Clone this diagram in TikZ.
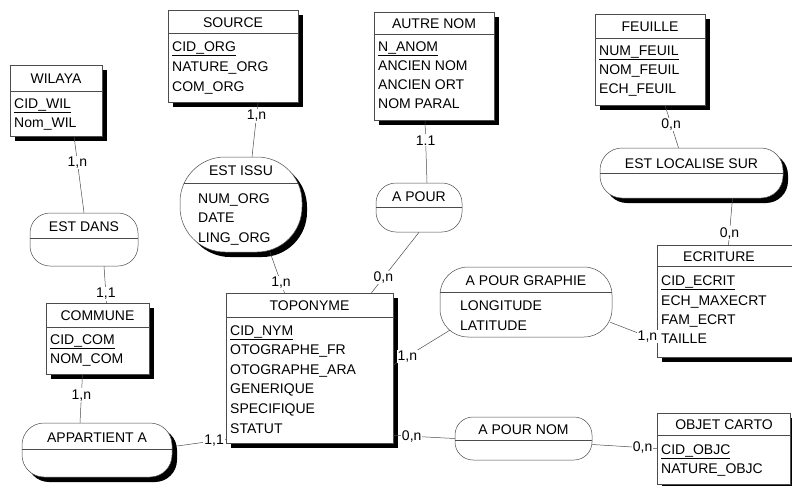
\documentclass[tikz,border=0pt]{standalone}
\usepackage{fontspec}
\setmainfont{Liberation Sans}
\usetikzlibrary{shadows}

\newcommand\erfont{\fontsize{14}{16}\selectfont}

\tikzset{
  titleline/.style={path picture={\draw[black!70, line width=0.5pt]
      ([yshift=-#1]path picture bounding box.north west) --
      ([yshift=-#1]path picture bounding box.north east);}},
  entity/.style={draw=black!70, line width=0.5pt, fill=white, inner sep=0pt, titleline=#1},
  relation/.style 2 args={draw=black!70, line width=0.5pt, fill=white, inner sep=0pt,
      rounded corners=#1, titleline=#2},
  boxshadow/.style={drop shadow={shadow xshift=5pt, shadow yshift=-5pt, opacity=1, fill=black}},
  ttl/.style={font=\erfont, anchor=base, inner sep=0pt},
  attr/.style={font=\erfont, anchor=base west, inner sep=0pt},
  card/.style={font=\erfont, fill=white, inner sep=1pt},
  link/.style={draw=black!70, line width=0.5pt},
}

\begin{document}
\begin{tikzpicture}[x=1pt, y=-1pt]
  \useasboundingbox (0,0) rectangle (792,485);
  \clip (0,0) rectangle (792,485);

  % entites
  \node[entity=26pt, boxshadow, minimum width=92pt, minimum height=71pt] (wilaya) at (56,100.5) {};
  \node[ttl] (wilaya-t) at (56,83) {WILAYA};
  \node[attr] (wilaya-1) at (14,108) {\underline{CID\_WIL}};
  \node[attr] (wilaya-2) at (14,127) {Nom\_WIL};

  \node[entity=23pt, boxshadow, minimum width=130pt, minimum height=92pt] (source) at (233,56) {};
  \node[ttl] (source-t) at (233,27) {SOURCE};
  \node[attr] (source-1) at (172,51) {\underline{CID\_ORG}};
  \node[attr] (source-2) at (172,71) {NATURE\_ORG};
  \node[attr] (source-3) at (172,91) {COM\_ORG};

  \node[entity=22pt, boxshadow, minimum width=120pt, minimum height=108pt] (autrenom) at (434,66) {};
  \node[ttl] (autrenom-t) at (434,28) {AUTRE NOM};
  \node[attr] (autrenom-1) at (378,51) {\underline{N\_ANOM}};
  \node[attr] (autrenom-2) at (378,70) {ANCIEN NOM};
  \node[attr] (autrenom-3) at (378,89) {ANCIEN ORT};
  \node[attr] (autrenom-4) at (378,108) {NOM PARAL};

  \node[entity=24pt, boxshadow, minimum width=110pt, minimum height=91pt] (feuille) at (650,59.5) {};
  \node[ttl] (feuille-t) at (650,31) {FEUILLE};
  \node[attr] (feuille-1) at (599,55) {\underline{NUM\_FEUIL}};
  \node[attr] (feuille-2) at (599,74) {NOM\_FEUIL};
  \node[attr] (feuille-3) at (599,93) {ECH\_FEUIL};

  \node[entity=24pt, boxshadow, minimum width=103pt, minimum height=71pt] (commune) at (97.5,338.5) {};
  \node[ttl] (commune-t) at (97.5,320) {COMMUNE};
  \node[attr] (commune-1) at (50,344) {\underline{CID\_COM}};
  \node[attr] (commune-2) at (50,363) {NOM\_COM};

  \node[entity=24pt, boxshadow, minimum width=167pt, minimum height=150pt] (toponyme) at (309.5,368) {};
  \node[ttl] (toponyme-t) at (309.5,310) {TOPONYME};
  \node[attr] (toponyme-1) at (230,335) {\underline{CID\_NYM}};
  \node[attr] (toponyme-2) at (230,354) {OTOGRAPHE\_FR};
  \node[attr] (toponyme-3) at (230,374) {OTOGRAPHE\_ARA};
  \node[attr] (toponyme-4) at (230,393) {GENERIQUE};
  \node[attr] (toponyme-5) at (230,413) {SPECIFIQUE};
  \node[attr] (toponyme-6) at (230,433) {STATUT};

  \node[entity=21pt, boxshadow, minimum width=143pt, minimum height=112pt] (ecriture) at (728.5,301) {};
  \node[ttl] (ecriture-t) at (719,261) {ECRITURE};
  \node[attr] (ecriture-1) at (661,285) {\underline{CID\_ECRIT}};
  \node[attr] (ecriture-2) at (661,305) {ECH\_MAXECRT};
  \node[attr] (ecriture-3) at (661,324) {FAM\_ECRT};
  \node[attr] (ecriture-4) at (661,343) {TAILLE};

  \node[entity=22pt, boxshadow, minimum width=133pt, minimum height=71pt] (objetcarto) at (723.5,448.5) {};
  \node[ttl] (objetcarto-t) at (724,429) {OBJET CARTO};
  \node[attr] (objetcarto-1) at (661,454) {\underline{CID\_OBJC}};
  \node[attr] (objetcarto-2) at (661,473) {NATURE\_OBJC};

  % associations
  \node[relation={20pt}{25pt}, minimum width=108pt, minimum height=53pt] (estdans) at (84,239.5) {};
  \node[ttl] (estdans-t) at (84,231) {EST DANS};

  \node[relation={22pt}{26pt}, boxshadow, minimum width=150pt, minimum height=54pt] (appartient) at (97,450) {};
  \node[ttl] (appartient-t) at (97,442) {APPARTIENT A};

  \node[relation={45pt}{26pt}, boxshadow, minimum width=122pt, minimum height=95pt] (estissu) at (241,204.5) {};
  \node[ttl] (estissu-t) at (241,175) {EST ISSU};
  \node[attr] (estissu-1) at (198,203) {NUM\_ORG};
  \node[attr] (estissu-2) at (198,222) {DATE};
  \node[attr] (estissu-3) at (198,242) {LING\_ORG};

  \node[relation={20pt}{24pt}, minimum width=86pt, minimum height=49pt] (apour) at (419,207.5) {};
  \node[ttl] (apour-t) at (419,201) {A POUR};

  \node[relation={28pt}{25pt}, minimum width=172pt, minimum height=70pt] (apourgraphie) at (526,302) {};
  \node[ttl] (apourgraphie-t) at (526,285) {A POUR GRAPHIE};
  \node[attr] (apourgraphie-1) at (460,310) {LONGITUDE};
  \node[attr] (apourgraphie-2) at (460,330) {LATITUDE};

  \node[relation={18pt}{23pt}, minimum width=137pt, minimum height=43pt] (apournom) at (523.5,438.5) {};
  \node[ttl] (apournom-t) at (523.5,434) {A POUR NOM};

  \node[relation={22pt}{25pt}, boxshadow, minimum width=183pt, minimum height=50pt] (estlocalise) at (691.5,173) {};
  \node[ttl] (estlocalise-t) at (691.5,168) {EST LOCALISE SUR};

  % liens
  \draw[link] ([xshift=18pt]wilaya.south) -- (estdans.north) node[card, pos=.34] (c1) {1,n};
  \draw[link] ([xshift=20pt]estdans.south) -- ([xshift=9pt]commune.north) node[card, pos=.76] (c2) {1,1};
  \draw[link] ([xshift=-15pt]commune.south) -- ([xshift=-17pt]appartient.north) node[card, pos=.43] (c3) {1,n};
  \draw[link] ([xshift=5pt, yshift=4pt]appartient.east) -- ([yshift=4pt]toponyme.south west) node[card, pos=.76] (c4) {1,1};
  \draw[link] ([xshift=25pt]source.south) -- ([xshift=11pt]estissu.north) node[card, pos=.25] (c5) {1,n};
  \draw[link] ([xshift=29pt]estissu.south) -- ([xshift=-25pt]toponyme.north) node[card, pos=.76] (c6) {1,n};
  \draw[link] ([xshift=-9pt]autrenom.south) -- ([xshift=8pt]apour.north) node[card, pos=.32] (c7) {1.1};
  \draw[link] (apour.south) -- ([xshift=62pt]toponyme.north) node[card, pos=.75] (c8) {0,n};
  \draw[link] ([yshift=3pt]toponyme.east) -- ([xshift=10pt, yshift=7pt]apourgraphie.south west) node[card, pos=.25] (c9) {1,n};
  \draw[link] ([xshift=-2pt, yshift=15pt]apourgraphie.south east) -- ([yshift=17pt]ecriture.south west) node[card, pos=.8] (c10) {1,n};
  \draw[link] ([xshift=15pt]feuille.south) -- ([xshift=-13pt]estlocalise.north) node[card, pos=.45] (c11) {0,n};
  \draw[link] ([xshift=41pt]estlocalise.south) -- (ecriture.north) node[card, pos=.75] (c12) {0,n};
  \draw[link] ([yshift=8pt]toponyme.south east) -- (apournom.west) node[card, pos=.3] (c13) {0,n};
  \draw[link] ([yshift=-6pt]apournom.east) -- (objetcarto.west) node[card, pos=.78] (c14) {0,n};
\end{tikzpicture}
\end{document}
